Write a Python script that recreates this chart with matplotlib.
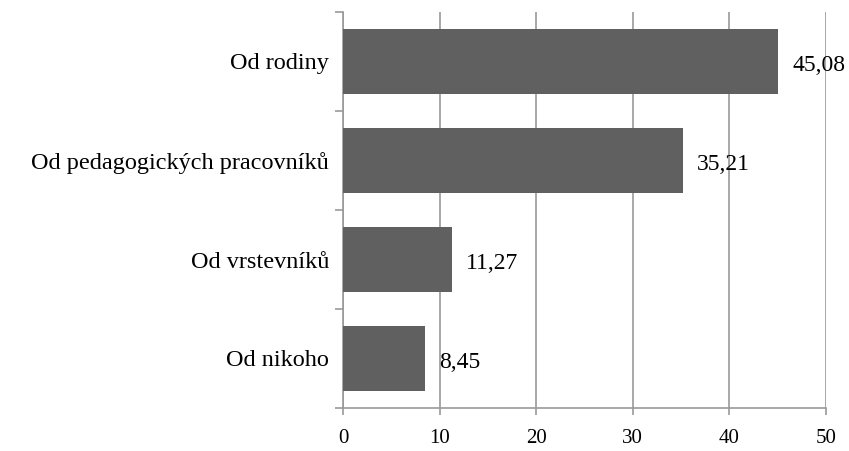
import matplotlib.pyplot as plt
import numpy as np

# data
kategorie = ['Od rodiny', 'Od pedagogických pracovníků', 'Od vrstevníků', 'Od nikoho']
hodnoty = [45.08, 35.21, 11.27, 8.45]
popisky = ['45,08', '35,21', '11,27', '8,45']
x_ticks = [0, 10, 20, 30, 40, 50]

plt.rcParams['font.family'] = ['Liberation Serif', 'DejaVu Serif']

fig = plt.figure(figsize=(8.49, 4.51), dpi=100)
ax = fig.add_axes([343 / 849, 1 - 408 / 451, (826 - 343) / 849, (408 - 12) / 451])

y = np.arange(len(kategorie))
ax.barh(y, hodnoty, height=0.66, color='#606060', zorder=3)

# popisky hodnot
for yi, v, t in zip(y, hodnoty, popisky):
    ax.annotate(t, (v, yi), xytext=(14, -4), textcoords='offset pixels',
                ha='left', va='center', fontsize=17, color='black', zorder=4)

ax.set_xlim(0, 50)
ax.set_ylim(len(kategorie) - 0.5, -0.5)
ax.set_xticks(x_ticks)
ax.set_xticklabels([str(t) for t in x_ticks], fontsize=15)
ax.set_yticks(y)
ax.set_yticklabels(kategorie, fontsize=17.5)
ax.set_yticks(np.arange(-0.5, len(kategorie)), minor=True)

ax.grid(axis='x', color='#999999', linewidth=1.2, zorder=0)
for s in ['top', 'right']:
    ax.spines[s].set_visible(False)
for s in ['left', 'bottom']:
    ax.spines[s].set_color('#999999')
    ax.spines[s].set_linewidth(1.2)

ax.tick_params(axis='y', which='major', length=0, pad=10)
ax.tick_params(axis='y', which='minor', length=6, color='#999999', width=1.2)
ax.tick_params(axis='x', length=5, color='#999999', width=1.2, pad=10)

fig.savefig('out.png', dpi=100)
